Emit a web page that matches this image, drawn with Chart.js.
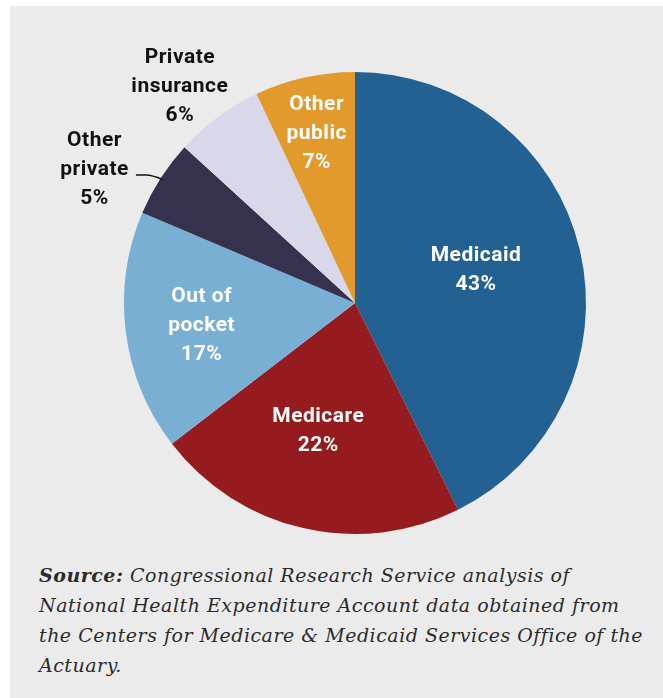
<!DOCTYPE html>
<html>
<head>
<meta charset="utf-8">
<script src="https://cdn.jsdelivr.net/npm/chart.js@4.4.1/dist/chart.umd.min.js"></script>
<style>
  html, body { margin: 0; padding: 0; background: #fff; }
  #panel { position: absolute; left: 10px; top: 6px; width: 653px; height: 692px; background: #ebebeb; }
  #wrap { position: absolute; left: 0; top: 0; width: 663px; height: 545px; }
  #source {
    position: absolute; left: 39px; top: 560px; width: 620px;
    font-family: "DejaVu Serif", serif; font-style: italic; font-size: 19px;
    letter-spacing: 0.5px; line-height: 30px; color: #2b2b2b; white-space: nowrap;
  }
  #source b { font-weight: bold; }
</style>
</head>
<body>
<div id="panel"></div>
<div id="wrap"><canvas id="myChart"></canvas></div>
<div id="source"><b>Source:</b> Congressional Research Service analysis of<br>National Health Expenditure Account data obtained from<br>the Centers for Medicare &amp; Medicaid Services Office of the<br>Actuary.</div>
<script>
// shares of spending (clockwise from 12 o'clock)
const categories = ['Medicaid', 'Medicare', 'Out of pocket', 'Other private', 'Private insurance', 'Other public'];
const labelLines = [['Medicaid'], ['Medicare'], ['Out of', 'pocket'], ['Other', 'private'], ['Private', 'insurance'], ['Other', 'public']];
const shares = [42.6, 21.9, 16.8, 5.4, 6.2, 7.0];

const colors = ['#246193', '#961b1f', '#7aafd4', '#35314e', '#d8d8ea', '#e19a2b'];
// label placement: fraction of radius, angle nudge in degrees, text colour
const labelRadius = [0.545, 0.57, 0.67, 1.27, 1.21, 0.76];
const labelShift = [-2.7, 3.2, -0.5, -5.3, -2.4, 0];
const labelColor = ['#fff', '#fff', '#fff', '#111', '#111', '#fff'];

const sliceLabels = {
    id: 'sliceLabels',
    afterDatasetsDraw(chart) {
        const ctx = chart.ctx;
        const arcs = chart.getDatasetMeta(0).data;
        const total = shares.reduce((a, b) => a + b, 0);
        ctx.save();
        ctx.font = 'bold 21px Roboto';
        ctx.letterSpacing = '0.5px';
        ctx.textAlign = 'center';
        ctx.textBaseline = 'middle';
        arcs.forEach((arc, i) => {
            const mid = (arc.startAngle + arc.endAngle) / 2 + labelShift[i] * Math.PI / 180;
            const r = arc.outerRadius * labelRadius[i];
            const cx = arc.x + Math.cos(mid) * r;
            const cy = arc.y + Math.sin(mid) * r + 2;
            const lines = labelLines[i].concat([Math.round(shares[i] / total * 100) + '%']);
            const lh = 29;
            ctx.fillStyle = labelColor[i];
            lines.forEach((t, k) => {
                ctx.fillText(t, cx, cy + (k - (lines.length - 1) / 2) * lh);
            });
            // leader line for the small outside slice
            if (i === 3) {
                const em = (arc.startAngle + arc.endAngle) / 2;
                const ex = arc.x + Math.cos(em) * arc.outerRadius * 0.99;
                const ey = arc.y + Math.sin(em) * arc.outerRadius * 0.99;
                const w = ctx.measureText(labelLines[i][1]).width;
                const sx = cx + w / 2 + 7;
                const sy = cy + 5;
                ctx.strokeStyle = '#111';
                ctx.lineWidth = 1.5;
                ctx.beginPath();
                ctx.moveTo(sx, sy);
                ctx.lineTo(sx + 10, sy);
                ctx.quadraticCurveTo(sx + 16, sy, ex, ey);
                ctx.stroke();
            }
        });
        ctx.restore();
    }
};

const config = {
    type: 'pie',
    data: {
        labels: categories,
        datasets: [{
            data: shares,
            backgroundColor: colors,
            borderWidth: 0,
        }],
    },
    options: {
        responsive: true,
        maintainAspectRatio: false,
        animation: false,
        layout: {
            padding: { left: 124, right: 77, top: 72, bottom: 11 }
        },
        plugins: {
            legend: { display: false },
            tooltip: { enabled: false },
        },
    },
    plugins: [sliceLabels],
};

var myChart = new Chart(
    document.getElementById('myChart'),
    config
);
</script>
</body>
</html>
